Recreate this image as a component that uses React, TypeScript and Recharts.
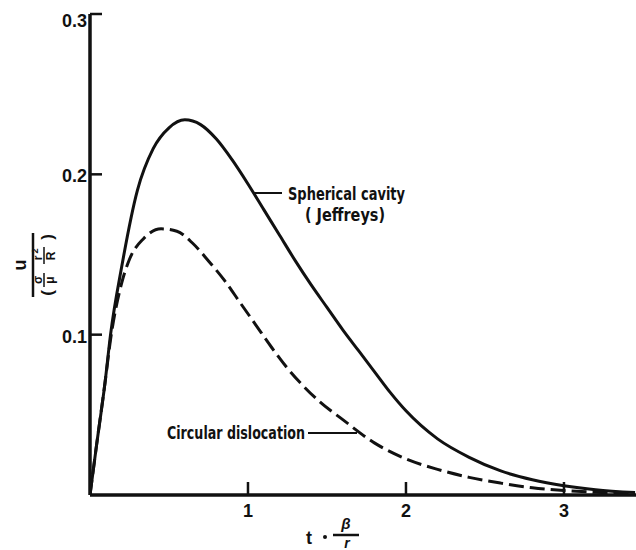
import React from "react";
import { LineChart, Line, XAxis, YAxis, Customized } from "recharts";

const CAVITY_T = [0, 0.04, 0.095, 0.13, 0.2, 0.3, 0.4, 0.5, 0.6, 0.7, 0.8, 0.9, 1.0, 1.1, 1.2, 1.3, 1.4, 1.5, 1.6, 1.7, 1.8, 1.9, 2.0, 2.2, 2.4, 2.6, 2.8, 3.0, 3.2, 3.45];
const CAVITY_U = [0, 0.03, 0.07, 0.1, 0.142, 0.19, 0.216, 0.229, 0.234, 0.231, 0.222, 0.209, 0.194, 0.178, 0.162, 0.146, 0.131, 0.117, 0.103, 0.09, 0.077, 0.064, 0.0525, 0.035, 0.0235, 0.015, 0.0095, 0.0058, 0.0033, 0.0015];

const DISLOC_T = [0, 0.04, 0.095, 0.13, 0.2, 0.25, 0.34, 0.45, 0.55, 0.65, 0.75, 0.85, 0.95, 1.05, 1.15, 1.25, 1.35, 1.45, 1.6, 1.8, 2.0, 2.2, 2.4, 2.6, 2.8, 3.0, 3.2, 3.45];
const DISLOC_U = [0, 0.03, 0.07, 0.097, 0.132, 0.147, 0.16, 0.166, 0.1645, 0.157, 0.146, 0.134, 0.12, 0.106, 0.092, 0.079, 0.068, 0.0585, 0.047, 0.0325, 0.0225, 0.016, 0.011, 0.0074, 0.0045, 0.0028, 0.0017, 0.0009];

const X_TICKS = [1, 2, 3];
const Y_TICKS = [0.1, 0.2, 0.3];
const X_DOMAIN = [0, 3.456];
const Y_DOMAIN = [0, 0.3];

const cavityData = CAVITY_T.map((t, i) => ({ t, u: CAVITY_U[i] }));
const dislocData = DISLOC_T.map((t, i) => ({ t, u: DISLOC_U[i] }));

const INK = "#111";
const FONT = "'Liberation Sans', Arial, sans-serif";
const NARROW = "'Liberation Sans Narrow', 'DejaVu Sans Condensed', 'Liberation Sans', Arial, sans-serif";

const XTick = (props: any) => {
  const { x, y, payload } = props;
  return (
    <g>
      <line x1={x} x2={x} y1={y} y2={y - 13} stroke={INK} strokeWidth={2.5} />
      <text x={x} y={y + 22} textAnchor="middle" fontFamily={FONT} fontWeight="bold" fontSize={18} fill={INK}>
        {payload.value}
      </text>
    </g>
  );
};

const YTick = (props: any) => {
  const { x, y, payload, index } = props;
  const dy = index === Y_TICKS.length - 1 ? 13 : 8;
  return (
    <g>
      <line x1={x} x2={x + 12} y1={y} y2={y} stroke={INK} strokeWidth={2.5} />
      <text x={x - 3} y={y + dy} textAnchor="end" fontFamily={FONT} fontWeight="bold" fontSize={18} fill={INK}>
        {payload.value}
      </text>
    </g>
  );
};

const Annotations = () => (
  <g fill={INK} fontFamily={NARROW} fontWeight="bold">
    {/* y-axis label: u / (sigma/mu * r^2/R), rotated */}
    <g transform="translate(33,265) rotate(-90)">
      <line x1={-32} x2={32} y1={0} y2={0} stroke={INK} strokeWidth={2.5} />
      <text x={0} y={-7} textAnchor="middle" fontSize={18} fontFamily={FONT}>u</text>
      <text x={-28} y={20} textAnchor="middle" fontSize={17} fontFamily={FONT}>(</text>
      <text x={28} y={20} textAnchor="middle" fontSize={17} fontFamily={FONT}>)</text>
      <text x={-15} y={9} textAnchor="middle" fontSize={12} fontFamily={FONT}>σ</text>
      <line x1={-22} x2={-8} y1={11} y2={11} stroke={INK} strokeWidth={1.5} />
      <text x={-15} y={21} textAnchor="middle" fontSize={12} fontFamily={FONT}>μ</text>
      <text x={7} y={9} textAnchor="middle" fontSize={12} fontFamily={FONT}>r</text>
      <text x={14} y={5} textAnchor="middle" fontSize={9} fontFamily={FONT}>2</text>
      <line x1={1} x2={18} y1={11} y2={11} stroke={INK} strokeWidth={1.5} />
      <text x={9} y={22} textAnchor="middle" fontSize={12} fontFamily={FONT}>R</text>
    </g>

    {/* x-axis label: t · β/r */}
    <text x={309} y={544} textAnchor="middle" fontSize={18} fontFamily={FONT}>t</text>
    <circle cx={325} cy={537} r={2} fill={INK} />
    <text x={346} y={529} textAnchor="middle" fontSize={15} fontStyle="italic" fontFamily={FONT}>β</text>
    <line x1={333} x2={359} y1={535} y2={535} stroke={INK} strokeWidth={2.5} />
    <text x={347} y={548} textAnchor="middle" fontSize={14} fontStyle="italic" fontFamily={FONT}>r</text>

    {/* series annotations */}
    <line x1={254} x2={282} y1={193} y2={193} stroke={INK} strokeWidth={2} />
    <text x={288} y={200} fontSize={17} textLength={117} lengthAdjust="spacingAndGlyphs">Spherical cavity</text>
    <text x={305} y={221} fontSize={17} textLength={80} lengthAdjust="spacingAndGlyphs">( Jeffreys)</text>

    <text x={167} y={439} fontSize={17} textLength={138} lengthAdjust="spacingAndGlyphs">Circular dislocation</text>
    <line x1={308} x2={357} y1={433} y2={433} stroke={INK} strokeWidth={2} />
  </g>
);

export default function App() {
  return (
    <div style={{ position: "absolute", left: 0, top: 0, background: "#fff" }}>
      <LineChart width={636} height={550} margin={{ top: 14, right: 0, bottom: 0, left: 0 }}>
        <XAxis
          dataKey="t"
          type="number"
          domain={X_DOMAIN}
          ticks={X_TICKS}
          allowDataOverflow
          height={55}
          tickSize={0}
          tickMargin={0}
          tickLine={false}
          axisLine={{ stroke: INK, strokeWidth: 3.5 }}
          tick={<XTick />}
          interval={0}
        />
        <YAxis
          type="number"
          domain={Y_DOMAIN}
          ticks={Y_TICKS}
          allowDataOverflow
          width={90}
          tickSize={0}
          tickMargin={0}
          tickLine={false}
          axisLine={{ stroke: INK, strokeWidth: 3.5 }}
          tick={<YTick />}
          interval={0}
        />
        <Line
          data={cavityData}
          dataKey="u"
          type="monotone"
          stroke={INK}
          strokeWidth={3}
          dot={false}
          activeDot={false}
          isAnimationActive={false}
        />
        <Line
          data={dislocData}
          dataKey="u"
          type="monotone"
          stroke={INK}
          strokeWidth={3}
          strokeDasharray="15 6"
          dot={false}
          activeDot={false}
          isAnimationActive={false}
        />
        <Customized component={<Annotations />} />
      </LineChart>
    </div>
  );
}
